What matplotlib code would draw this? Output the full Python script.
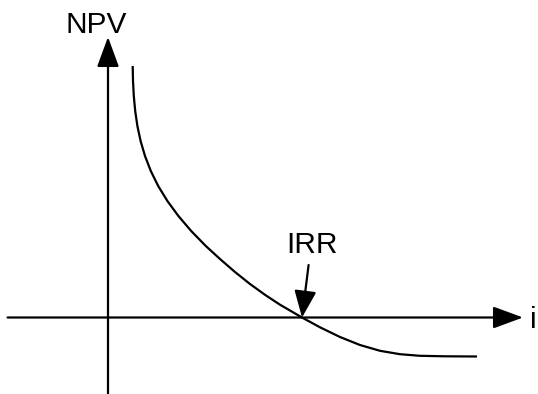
import matplotlib
matplotlib.use('Agg')
import matplotlib.pyplot as plt

# NPV profile (arbitrary units, origin at axis crossing)
rate = [24.7, 25.0, 25.8, 27.2, 29.4, 32.6, 37.0, 42.8, 50.2, 59.4,
        70.4, 83.2, 97.8, 112.0, 127.0, 142.0, 157.0, 172.0, 194.0,
        212.0, 232.0, 252.0, 272.0, 292.0, 312.0, 337.0, 369.0]
npv = [251.5, 236.5, 221.5, 206.5, 191.5, 176.5, 161.5, 146.5, 131.5, 116.5,
       101.5, 86.5, 71.5, 58.5, 45.5, 33.5, 22.7, 12.8, 0.0,
       -9.8, -19.5, -27.5, -33.3, -36.7, -38.3, -38.8, -39.0]
irr = 194.0

x_label = 'i'
y_label = 'NPV'
irr_label = 'IRR'

plt.rcParams['font.family'] = ['Liberation Sans', 'DejaVu Sans']

fig = plt.figure(figsize=(5.38, 3.94), dpi=100)
ax = fig.add_axes([0, 0, 1, 1])
ax.set_xlim(-108, 430)
ax.set_ylim(-76.5, 317.5)
ax.set_axis_off()

lw = 1.6
head = dict(arrowstyle='-|>,head_length=1.85,head_width=0.68', mutation_scale=10,
            color='black', lw=lw, shrinkA=0, shrinkB=0)

# axes with arrowheads
ax.annotate('', xy=(415, 0), xytext=(-100.4, 0), arrowprops=head)
ax.annotate('', xy=(0, 280.5), xytext=(0, -80), arrowprops=head)

ax.plot(rate, npv, color='black', lw=lw, solid_capstyle='butt',
        solid_joinstyle='round')

# IRR pointer
irr_head = dict(head, arrowstyle='-|>,head_length=1.65,head_width=0.68')
ax.annotate('', xy=(irr, 0), xytext=(irr + 6.6, 52.5), arrowprops=irr_head)

ax.text(-12, 284.5, y_label, fontsize=21.5, ha='center', va='baseline')
ax.text(204, 64.5, irr_label, fontsize=21.5, ha='center', va='baseline')
ax.text(425, -10, x_label, fontsize=21.5, ha='center', va='baseline')

fig.savefig('out.png', dpi=100)
